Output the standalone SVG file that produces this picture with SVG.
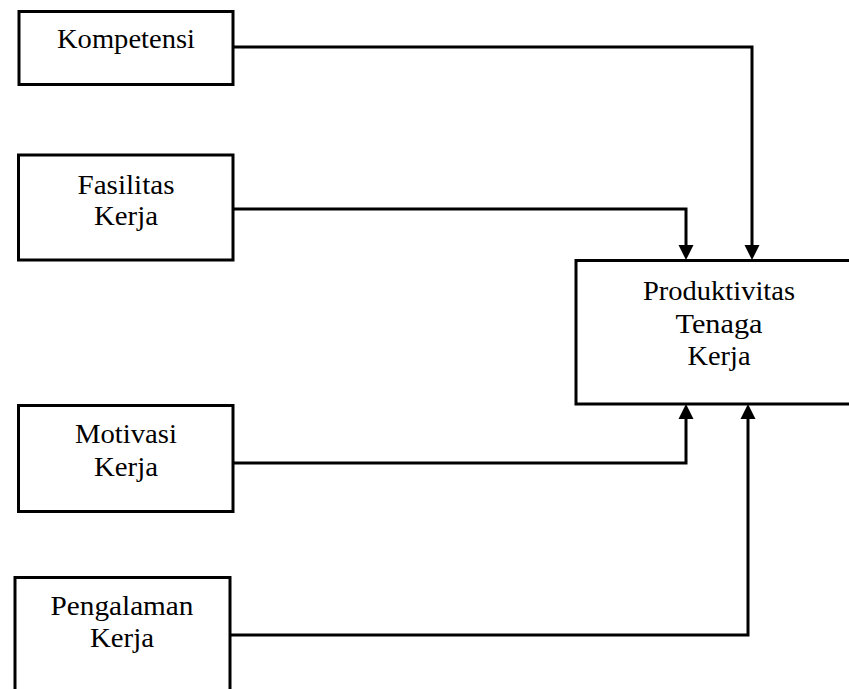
<svg xmlns="http://www.w3.org/2000/svg" width="849" height="689" viewBox="0 0 849 689">
<style>
.box{fill:#fff;stroke:#000;stroke-width:3}
.lbl{font-family:"Liberation Serif","Times New Roman",serif;font-size:27px;fill:#000;text-anchor:middle}
.conn{fill:none;stroke:#000;stroke-width:3}
.head{fill:#000;stroke:none}
</style>
<rect width="849" height="689" fill="#fff"/>
<g id="connectors">
<polyline class="conn" points="233,47 752,47 752,246"/>
<polygon class="head" points="744.5,245 759.5,245 752,260"/>
<polyline class="conn" points="233,209 686,209 686,246"/>
<polygon class="head" points="678.5,245 693.5,245 686,260"/>
<polyline class="conn" points="233,463 686,463 686,418"/>
<polygon class="head" points="678.5,419 693.5,419 686,404"/>
<polyline class="conn" points="230,635 748,635 748,418"/>
<polygon class="head" points="740.5,419 755.5,419 748,404"/>
</g>
<g id="kompetensi">
<rect class="box" x="19" y="11.5" width="214" height="73"/>
<text class="lbl" x="126" y="48" textLength="138" lengthAdjust="spacingAndGlyphs">Kompetensi</text>
</g>
<g id="fasilitas">
<rect class="box" x="18.5" y="155" width="214.5" height="105"/>
<text class="lbl" x="126" y="193.5" textLength="97" lengthAdjust="spacingAndGlyphs">Fasilitas</text>
<text class="lbl" x="126" y="225" textLength="64" lengthAdjust="spacingAndGlyphs">Kerja</text>
</g>
<g id="motivasi">
<rect class="box" x="18.5" y="405.5" width="214.5" height="106"/>
<text class="lbl" x="126" y="443" textLength="102" lengthAdjust="spacingAndGlyphs">Motivasi</text>
<text class="lbl" x="126" y="476" textLength="64" lengthAdjust="spacingAndGlyphs">Kerja</text>
</g>
<g id="pengalaman">
<rect class="box" x="15" y="577.5" width="215" height="130"/>
<text class="lbl" x="122" y="615" textLength="143" lengthAdjust="spacingAndGlyphs">Pengalaman</text>
<text class="lbl" x="122" y="647" textLength="64" lengthAdjust="spacingAndGlyphs">Kerja</text>
</g>
<g id="produktivitas">
<rect class="box" x="576" y="260.5" width="300" height="143.5"/>
<text class="lbl" x="719" y="300" textLength="152" lengthAdjust="spacingAndGlyphs">Produktivitas</text>
<text class="lbl" x="719" y="332.5" textLength="87" lengthAdjust="spacingAndGlyphs">Tenaga</text>
<text class="lbl" x="719" y="365" textLength="63" lengthAdjust="spacingAndGlyphs">Kerja</text>
</g>
</svg>
